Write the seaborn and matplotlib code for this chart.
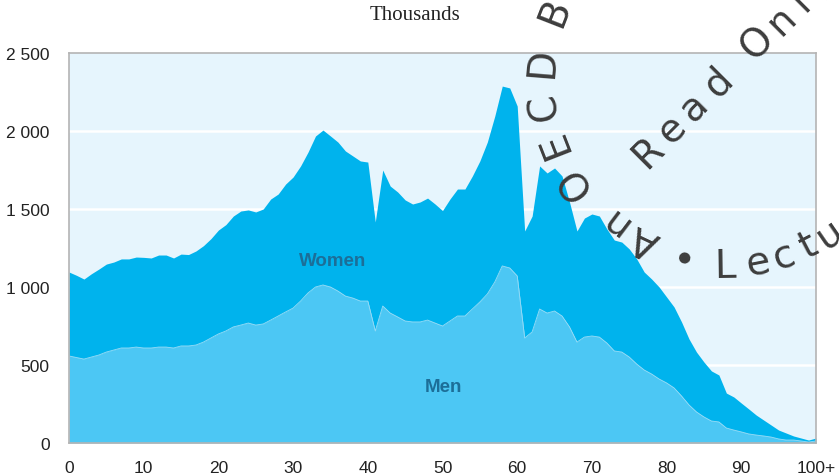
import numpy as np
import matplotlib
matplotlib.use('Agg')
import matplotlib.pyplot as plt
import seaborn as sns

# population by single year of age, thousands
ages = list(range(0, 101))
men = [558, 548, 538, 551, 564, 583, 596, 609, 609, 615,
       609, 609, 615, 615, 609, 622, 622, 628, 647, 673,
       699, 718, 744, 756, 769, 756, 763, 788, 814, 840,
       865, 910, 962, 1000, 1013, 1000, 974, 942, 929, 910,
       910, 718, 878, 833, 808, 782, 776, 776, 788, 769,
       750, 782, 814, 814, 859, 904, 955, 1032, 1135, 1122,
       1071, 673, 712, 859, 833, 846, 814, 744, 647, 679,
       686, 679, 641, 590, 583, 551, 506, 468, 442, 410,
       385, 353, 301, 244, 199, 167, 141, 135, 96, 83,
       71, 58, 51, 45, 38, 26, 19, 19, 13, 6,
       13]
women = [538, 527, 513, 534, 551, 564, 564, 571, 571, 577,
         581, 577, 590, 590, 577, 589, 586, 603, 618, 637,
         666, 682, 711, 731, 725, 725, 737, 776, 782, 820,
         840, 866, 903, 968, 993, 968, 955, 930, 911, 898,
         891, 699, 872, 814, 801, 776, 756, 769, 782, 763,
         740, 782, 814, 814, 853, 904, 974, 1064, 1153, 1154,
         1089, 686, 743, 917, 898, 917, 898, 801, 712, 763,
         782, 776, 731, 711, 705, 693, 674, 628, 609, 590,
         551, 519, 475, 423, 384, 352, 321, 301, 224, 212,
         185, 160, 128, 102, 77, 57, 45, 26, 19, 13,
         19]
xticks = [0, 10, 20, 30, 40, 50, 60, 70, 80, 90, 100]
xticklabels = ['0', '10', '20', '30', '40', '50', '60', '70', '80', '90', '100+']
yticks = [0, 500, 1000, 1500, 2000, 2500]
yticklabels = ['0', '500', '1 000', '1 500', '2 000', '2 500']

MEN_COL = '#4cc7f4'
WOMEN_COL = '#00b3ed'
BG_COL = '#e6f5fd'
LABEL_COL = '#1c6e98'

sns.set_style('white')
plt.rcParams['font.family'] = ['Liberation Sans', 'DejaVu Sans']

W, H = 839, 477
fig = plt.figure(figsize=(W / 100, H / 100), dpi=100)
ax = fig.add_axes([69 / W, 1 - 444 / H, (816 - 69) / W, (444 - 54) / H])
ax.set_facecolor(BG_COL)

total = np.array(men) + np.array(women)
ax.fill_between(ages, 0, men, color=MEN_COL, lw=0, zorder=2)
ax.fill_between(ages, men, total, color=WOMEN_COL, lw=0, zorder=2)
sns.lineplot(x=ages, y=men, ax=ax, color='#9adcf7', lw=0.6, zorder=3)

ax.set_xlim(0, 100)
ax.set_ylim(0, 2500)
ax.set_xticks(xticks)
ax.set_xticklabels(xticklabels)
ax.set_yticks(yticks)
ax.set_yticklabels(yticklabels)
for y in yticks[1:-1]:
    ax.axhline(y, color='white', lw=1.8, zorder=1)
ax.tick_params(axis='x', direction='in', length=4.5, width=1, color='#b4b4b4',
               pad=12, labelsize=12.5, labelcolor='#222222')
ax.tick_params(axis='y', length=0, pad=14, labelsize=12.5, labelcolor='#222222')
for s in ax.spines.values():
    s.set_color('#b4b4b4')
    s.set_linewidth(1.2)
    s.set_zorder(4)

ax.text(35.3, 1173, 'Women', ha='center', va='center', fontsize=13.5,
        fontweight='bold', color=LABEL_COL, zorder=5)
ax.text(50.1, 365, 'Men', ha='center', va='center', fontsize=13.5,
        fontweight='bold', color=LABEL_COL, zorder=5)

fig.text(0.495, 1 - 15 / H, 'Thousands', ha='center', va='center',
         fontsize=15, family='Liberation Serif', color='#222222')

# watermark stamp
wm = dict(fontsize=28, color='#3d3d3d', ha='center', va='center',
          family='DejaVu Sans', zorder=10)
cx, cy = 722, 78
top_letters = ['A', 'n', 'O', 'E', 'C', 'D', 'B']
top_angles = [244.7, 232.9, 215.3, 201.3, 189.2, 175.3, 158.7]
for ch, a in zip(top_letters, top_angles):
    r = 180
    px = cx + r * np.cos(np.radians(a))
    py = cy - r * np.sin(np.radians(a))
    fig.text(px / W, 1 - py / H, ch, rotation=a - 90, **wm)
bot_letters = ['\u2022', 'L', 'e', 'c', 't', 'u']
bot_angles = [258.0, 270.9, 281.0, 289.3, 297.4, 304.5]
for ch, a in zip(bot_letters, bot_angles):
    r = 189
    px = cx + r * np.cos(np.radians(a))
    py = cy - r * np.sin(np.radians(a))
    fig.text(px / W, 1 - py / H, ch, rotation=a - 270, **wm)
diag_letters = ['R', 'e', 'a', 'd', 'O', 'n', 'l', 'y']
diag_offsets = [0, 34, 65, 100, 155, 188, 215, 245]
for ch, d in zip(diag_letters, diag_offsets):
    px = 648 + d * np.cos(np.radians(45))
    py = 153 - d * np.sin(np.radians(45))
    fig.text(px / W, 1 - py / H, ch, rotation=45, **wm)

fig.savefig('out.png', dpi=100)
